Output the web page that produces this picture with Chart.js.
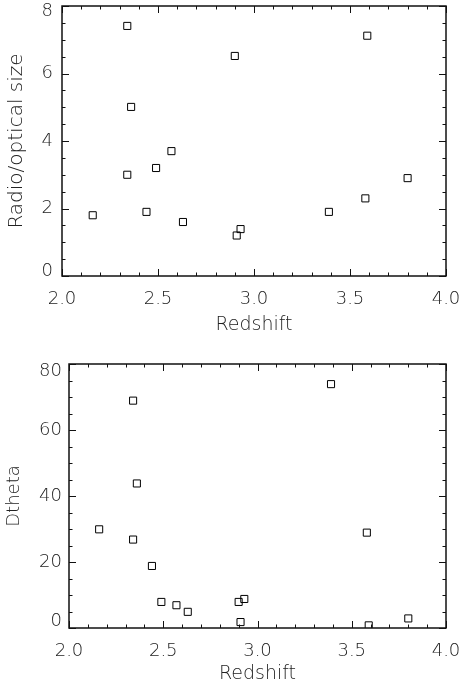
<!DOCTYPE html>
<html>
<head>
<meta charset="utf-8">
<script src="https://cdn.jsdelivr.net/npm/chart.js@4/dist/chart.umd.min.js"></script>
<style>
  html, body { margin:0; padding:0; background:#fff; }
  body { width:463px; height:685px; position:relative; overflow:hidden; }
  .panel { position:absolute; left:0; width:463px; }
</style>
</head>
<body>
<div class="panel" style="top:0;height:340px"><canvas id="c1"></canvas></div>
<div class="panel" style="top:340px;height:345px"><canvas id="c2"></canvas></div>
<script>
// ---- data ----
const redshiftTop = [2.16, 2.34, 2.34, 2.36, 2.44, 2.49, 2.57, 2.63, 2.90, 2.91, 2.93, 3.39, 3.58, 3.59, 3.80];
const sizeRatio   = [1.80, 7.41, 3.00, 5.01, 1.90, 3.20, 3.70, 1.60, 6.52, 1.20, 1.39, 1.90, 2.30, 7.12, 2.90];

const redshiftBottom = [2.16, 2.34, 2.34, 2.36, 2.44, 2.49, 2.57, 2.63, 2.90, 2.91, 2.93, 3.39, 3.58, 3.59, 3.80];
const dtheta         = [29.9, 68.9, 26.8, 43.8, 18.8, 7.9, 6.9, 4.9, 7.9, 1.8, 8.8, 73.9, 28.9, 0.8, 2.9];

const xTicks = [2.0, 2.5, 3.0, 3.5, 4.0];
const xMinorStep = 0.1;
const yTicksTop = [0, 2, 4, 6, 8];
const yMinorTop = 0.5;
const yTicksBottom = [0, 20, 40, 60, 80];
const yMinorBottom = 5;

const FONT = "'DejaVu Sans', sans-serif";
const WEIGHT = 200;
const TXT = '#222';

function framePlugin(xMinor, yMinor, yMaj) {
  return {
    id: 'frame',
    afterDraw(chart) {
      const {ctx, chartArea: a, scales: {x, y}} = chart;
      ctx.save();
      ctx.strokeStyle = '#111';
      ctx.lineWidth = 1.5;
      ctx.strokeRect(a.left, a.top, a.right - a.left, a.bottom - a.top);
      ctx.lineWidth = 1;
      const MAJ = 7, MIN = 3.5;
      for (let v = x.min; v <= x.max + 1e-9; v += xMinor) {
        const vv = Math.round(v * 1000) / 1000;
        const isMaj = xTicks.some(t => Math.abs(t - vv) < 1e-6);
        const L = isMaj ? MAJ : MIN;
        const px = Math.round(x.getPixelForValue(vv)) + 0.5;
        ctx.beginPath();
        ctx.moveTo(px, a.bottom); ctx.lineTo(px, a.bottom - L);
        ctx.moveTo(px, a.top); ctx.lineTo(px, a.top + L);
        ctx.stroke();
      }
      for (let v = y.min; v <= y.max + 1e-9; v += yMinor) {
        const vv = Math.round(v * 1000) / 1000;
        const isMaj = yMaj.some(t => Math.abs(t - vv) < 1e-6);
        const L = isMaj ? MAJ : MIN;
        const py = Math.round(y.getPixelForValue(vv)) + 0.5;
        ctx.beginPath();
        ctx.moveTo(a.left, py); ctx.lineTo(a.left + L, py);
        ctx.moveTo(a.right, py); ctx.lineTo(a.right - L, py);
        ctx.stroke();
      }
      ctx.restore();
    }
  };
}

function makeChart(id, xs, ys, yTicks, yMinor, yTitle, cfg) {
  const pts = xs.map((v, i) => ({x: v, y: ys[i]}));
  const yFirst = yTicks[0], yLast = yTicks[yTicks.length - 1];
  return new Chart(document.getElementById(id), {
    type: 'scatter',
    data: { datasets: [{
      data: pts,
      pointStyle: 'rect',
      pointRadius: 5,
      pointHoverRadius: 5,
      pointBorderWidth: 1,
      borderColor: '#000',
      backgroundColor: 'rgba(255,255,255,0)'
    }]},
    options: {
      responsive: true,
      maintainAspectRatio: false,
      animation: false,
      events: [],
      layout: { padding: { top: cfg.top, right: cfg.right, left: 0, bottom: 0 } },
      plugins: { legend: { display: false }, tooltip: { enabled: false } },
      scales: {
        x: {
          type: 'linear', min: 2.0, max: 4.0,
          afterBuildTicks: s => { s.ticks = xTicks.map(v => ({value: v})); },
          afterFit: s => { s.height = cfg.xh; s.paddingLeft = 0; s.paddingRight = 0; s.paddingTop = 0; s.paddingBottom = 0; },
          grid: { display: false, drawTicks: false },
          border: { display: false },
          ticks: { padding: 13, color: TXT, font: { family: FONT, size: 18, weight: WEIGHT }, maxRotation: 0, callback: v => Number(v).toFixed(1) },
          title: { display: true, text: 'Redshift', color: TXT, font: { family: FONT, size: 19, weight: WEIGHT, lineHeight: 1.2 }, padding: { top: 0, bottom: cfg.xtp } }
        },
        y: {
          type: 'linear', min: yFirst, max: yLast,
          afterBuildTicks: s => { s.ticks = yTicks.map(v => ({value: v})); },
          afterFit: s => { s.width = cfg.yw; s.paddingLeft = 0; s.paddingRight = 0; s.paddingTop = 0; s.paddingBottom = 0; },
          grid: { display: false, drawTicks: false },
          border: { display: false },
          ticks: {
            padding: cfg.ypad, color: TXT,
            // end labels sit inside the frame (bottom label raised, top label lowered)
            font: ctx => ({ family: FONT, size: 18, weight: WEIGHT,
              lineHeight: (ctx.tick && (ctx.tick.value === yFirst || ctx.tick.value === yLast)) ? cfg.endShift * 2 / 18 : 1.2 }),
            callback: v => v === yFirst ? [String(v), ''] : (v === yLast ? ['', String(v)] : String(v))
          },
          title: { display: true, text: yTitle, color: TXT, font: { family: FONT, size: cfg.yts, weight: WEIGHT, lineHeight: 1.2 }, padding: { top: cfg.ytp, bottom: 0 } }
        }
      }
    },
    plugins: [framePlugin(xMinorStep, yMinor, yTicks)]
  });
}

makeChart('c1', redshiftTop, sizeRatio, yTicksTop, yMinorTop, 'Radio/optical size',
  { top: 5, right: 17, xh: 64, yw: 62, ypad: 9, xtp: 4, ytp: 5, yts: 20, endShift: 5 });
makeChart('c2', redshiftBottom, dtheta, yTicksBottom, yMinorBottom, 'Dtheta',
  { top: 24, right: 17, xh: 57, yw: 69, ypad: 7, xtp: 0, ytp: 4, yts: 18, endShift: 7 });
</script>
</body>
</html>
